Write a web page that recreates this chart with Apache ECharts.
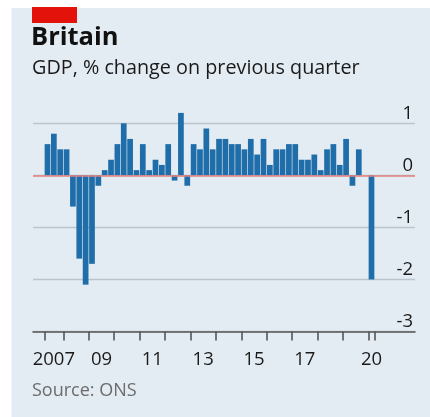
<!DOCTYPE html>
<html>
<head>
<meta charset="utf-8">
<script src="https://cdn.jsdelivr.net/npm/echarts@6/dist/echarts.min.js"></script>
<style>
  html, body { margin: 0; padding: 0; background: #ffffff; }
  #chart { width: 430px; height: 417px; }
</style>
</head>
<body>
<div id="chart"></div>
<script>
// ---- data ----
const quarters = [
  "2007Q2","2007Q3","2007Q4",
  "2008Q1","2008Q2","2008Q3","2008Q4",
  "2009Q1","2009Q2","2009Q3","2009Q4",
  "2010Q1","2010Q2","2010Q3","2010Q4",
  "2011Q1","2011Q2","2011Q3","2011Q4",
  "2012Q1","2012Q2","2012Q3","2012Q4",
  "2013Q1","2013Q2","2013Q3","2013Q4",
  "2014Q1","2014Q2","2014Q3","2014Q4",
  "2015Q1","2015Q2","2015Q3","2015Q4",
  "2016Q1","2016Q2","2016Q3","2016Q4",
  "2017Q1","2017Q2","2017Q3","2017Q4",
  "2018Q1","2018Q2","2018Q3","2018Q4",
  "2019Q1","2019Q2","2019Q3","2019Q4",
  "2020Q1"
];
const gdpChange = [
  0.6, 0.8, 0.5,
  0.5, -0.6, -1.6, -2.1,
  -1.7, -0.2, 0.1, 0.3,
  0.6, 1.0, 0.7, 0.1,
  0.6, 0.1, 0.3, 0.2,
  0.6, -0.1, 1.2, -0.2,
  0.6, 0.5, 0.9, 0.5,
  0.7, 0.7, 0.6, 0.6,
  0.5, 0.7, 0.4, 0.7,
  0.2, 0.5, 0.5, 0.6,
  0.6, 0.3, 0.3, 0.4,
  0.1, 0.5, 0.6, 0.2,
  0.7, -0.2, 0.5, 0.0,
  -2.0
];
// tick marks at year boundaries (plus start/end of data)
const xTickValues = [2007.25, 2008, 2009, 2010, 2011, 2012, 2013, 2014, 2015, 2016, 2017, 2018, 2019, 2020, 2020.25];
// year labels, placed at the middle of each labelled (partial) year
const xLabelValues = [2007.625, 2009.5, 2011.5, 2013.5, 2015.5, 2017.5, 2020.125];
const xLabelTexts  = ["2007", "09", "11", "13", "15", "17", "20"];
const yTicks = [-3, -2, -1, 0, 1];

// quarter label -> numeric time position (centre of the quarter)
function quarterPos(q) {
  const y = parseInt(q.slice(0, 4), 10);
  const n = parseInt(q.slice(5), 10);
  return y + (n - 1) / 4 + 0.125;
}
const barData = quarters.map((q, i) => [quarterPos(q), gdpChange[i]]);

const FONT = '"Open Sans"';
const chart = echarts.init(document.getElementById('chart'), null, { renderer: 'canvas' });
chart.setOption({
  animation: false,
  backgroundColor: '#ffffff',
  textStyle: { fontFamily: FONT },
  graphic: [
    { type: 'rect', z: -10, shape: { x: 11.5, y: 8, width: 430, height: 420 }, style: { fill: '#e4ecf3' } },
    { type: 'rect', z: 10, shape: { x: 32, y: 7, width: 45, height: 16 }, style: { fill: '#e3120b' } },
    { type: 'text', left: 31, top: 25, style: { text: 'Britain', font: 'bold 25.5px ' + FONT, fill: '#111' } },
    { type: 'text', left: 32, top: 58, style: { text: 'GDP, % change on previous quarter', font: '19.8px ' + FONT, fill: '#1a1a1a' } },
    { type: 'text', left: 32, top: 382, style: { text: 'Source: ONS', font: '18px ' + FONT, fill: '#6b6b6b' } }
  ],
  grid: { left: 33, right: 15, top: 123.3, bottom: 85.5, containLabel: false },
  xAxis: {
    type: 'value',
    min: 2006.804,
    max: 2021.837,
    splitLine: { show: false },
    axisLine: { show: true, onZero: false, lineStyle: { color: '#555', width: 1.6 } },
    axisTick: { show: true, customValues: xTickValues, length: 9, lineStyle: { color: '#555', width: 1.6 } },
    axisLabel: {
      show: true,
      customValues: xLabelValues,
      margin: 19,
      fontSize: 18.5,
      color: '#1a1a1a',
      fontFamily: FONT,
      formatter: function (v) {
        for (let i = 0; i < xLabelValues.length; i++) {
          if (Math.abs(xLabelValues[i] - v) < 1e-6) return xLabelTexts[i];
        }
        return '';
      }
    }
  },
  yAxis: {
    type: 'value',
    position: 'right',
    min: yTicks[0],
    max: yTicks[yTicks.length - 1],
    interval: 1,
    axisLine: { show: false },
    axisTick: { show: false },
    splitLine: { show: true, lineStyle: { color: '#b9c4cc', width: 1.3 } },
    axisLabel: {
      inside: true,
      margin: 2,
      fontSize: 18.5,
      color: '#1a1a1a',
      fontFamily: FONT,
      verticalAlign: 'bottom',
      align: 'right',
      padding: [0, 0, 0, 0],
      formatter: function (v) { return String(v); }
    }
  },
  series: [{
    type: 'bar',
    data: barData,
    barWidth: '90%',
    clip: false,
    itemStyle: { color: '#1f6ea9' },
    markLine: {
      silent: true,
      symbol: 'none',
      label: { show: false },
      lineStyle: { color: '#e8817e', width: 1.6, type: 'solid' },
      data: [{ yAxis: 0 }]
    }
  }]
});
</script>
</body>
</html>
